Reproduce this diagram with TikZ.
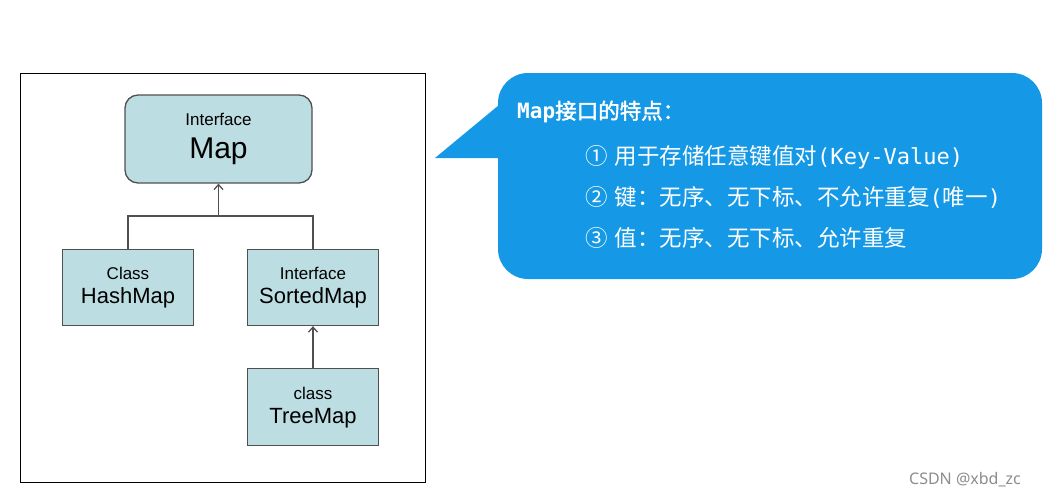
\documentclass[tikz,border=0pt]{standalone}
\usepackage{fontspec}
\setmainfont{Liberation Sans}
\newfontfamily\cjk{Noto Sans CJK SC}
\newfontfamily\cjkbold{Noto Sans CJK SC}[FakeBold=2]
\newfontfamily\latmono{DejaVu Sans Mono}[Scale=0.98]
\newfontfamily\wmfont{Noto Sans}
\usetikzlibrary{arrows.meta,positioning}
\definecolor{boxfill}{HTML}{BCDDE1}
\definecolor{edge}{HTML}{505050}
\definecolor{bubble}{HTML}{1599E6}
\newcommand{\namesize}{\fontsize{22}{22}\selectfont}
\newcommand{\numgap}{\hspace{7pt}}
\tikzset{
cls/.style={draw=edge,line width=1.3pt,fill=boxfill,align=center,minimum width=131pt,
  minimum height=76pt,inner sep=0pt,font=\fontsize{17}{24}\selectfont},
iface/.style={cls,rounded corners=13pt,minimum width=187pt,minimum height=88pt,
  font=\fontsize{17}{33}\selectfont},
link/.style={draw=edge,line width=1.3pt},
arr/.style={link,-{Straight Barb[length=5pt,width=9pt]}},
tipline/.style={font=\cjk\fontsize{22.5}{24}\selectfont,text=white,anchor=west,inner sep=0pt}
}

\begin{document}
\begin{tikzpicture}[x=1pt,y=-1pt]
\useasboundingbox (0,0) rectangle (1047,499);
% hierarchy frame
\draw[black,line width=1pt] (20,73) rectangle (425,482);
\node[iface] (map) at (218.5,139) {Interface\\{\fontsize{30}{30}\selectfont Map}};
\node[cls] (hash) at (128,287.5) {Class\\{\namesize HashMap}};
\node[cls] (sorted) at (313,287.5) {Interface\\{\namesize SortedMap}};
\node[cls,below=42pt of sorted,minimum height=77pt] (tree) {class\\{\namesize TreeMap}};
\coordinate (junc) at (map.south |- 0,216);
\draw[link] (hash.north) |- (junc) -| (sorted.north);
\draw[arr] (junc) -- (map.south);
\draw[arr] (tree) -- (sorted);
% speech bubble
\fill[bubble,rounded corners=30pt] (498,73) rectangle (1042,279);
\fill[bubble] (499,105) -- (435,158) -- (499,158) -- cycle;
\node[tipline,font=\cjkbold\fontsize{21.5}{23}\selectfont] (title) at (517,112) {{\latmono\bfseries Map}接口的特点：};
\node[tipline] (one) at (585,157) {①\numgap 用于存储任意键值对{\latmono(Key-Value)}};
\node[tipline] (two) at (585,197) {②\numgap 键：无序、无下标、不允许重复{\latmono(}唯一{\latmono)}};
\node[tipline] (three) at (585,238) {③\numgap 值：无序、无下标、允许重复};
% watermark
\node[font=\wmfont\fontsize{16}{16}\selectfont,text=black!45] (wm) at (965,480) {CSDN @xbd\_zc};
\end{tikzpicture}
\end{document}
